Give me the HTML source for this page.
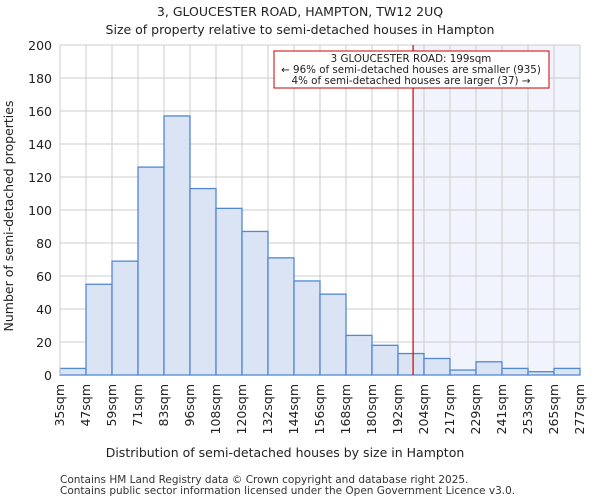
<!DOCTYPE html>
<html><head><meta charset="utf-8"><style>
body{margin:0;background:#fff;font-family:"DejaVu Sans","Liberation Sans",sans-serif;}
</style></head><body>
<svg id="chart" width="600" height="500" xmlns="http://www.w3.org/2000/svg" font-family="DejaVu Sans, Liberation Sans, sans-serif">
<text x="300" y="16" text-anchor="middle" font-size="12.5" fill="#222">3, GLOUCESTER ROAD, HAMPTON, TW12 2UQ</text>
<text x="300" y="34" text-anchor="middle" font-size="12.5" fill="#222">Size of property relative to semi-detached houses in Hampton</text>
<g id="plot"></g>
<text x="285" y="457" text-anchor="middle" font-size="12.5" fill="#222">Distribution of semi-detached houses by size in Hampton</text>
<text transform="translate(13,216) rotate(-90)" text-anchor="middle" font-size="12.5" fill="#222">Number of semi-detached properties</text>
<text x="60" y="483" font-size="10.5" fill="#333">Contains HM Land Registry data © Crown copyright and database right 2025.</text>
<text x="60" y="494" font-size="10.5" fill="#333">Contains public sector information licensed under the Open Government Licence v3.0.</text>
</svg>
<script>
const categories=["35sqm","47sqm","59sqm","71sqm","83sqm","96sqm","108sqm","120sqm","132sqm","144sqm","156sqm","168sqm","180sqm","192sqm","204sqm","217sqm","229sqm","241sqm","253sqm","265sqm","277sqm"];
const counts=[4,55,69,126,157,113,101,87,71,57,49,24,18,13,10,3,8,4,2,4];
const yTicks=[0,20,40,60,80,100,120,140,160,180,200];
const markerBin=13.58;
const NS="http://www.w3.org/2000/svg";
const g=document.getElementById('plot');
const L=60,R=580,T=45,B=375,yMax=200;
const n=counts.length, bw=(R-L)/n;
const xs=i=>L+i*bw, ys=v=>B-(v/yMax)*(B-T);
function mk(t,a){const e=document.createElementNS(NS,t);for(const k in a)e.setAttribute(k,a[k]);g.appendChild(e);return e;}
const mx=xs(markerBin);
let e=mk('rect',{x:mx,y:T,width:R-mx,height:B-T,fill:'#f1f4fd'});


yTicks.forEach(v=>{
 let l=mk('line',{x1:L,x2:R,y1:ys(v),y2:ys(v),stroke:'#ccc','stroke-width':1});
 
 
 let t=mk('text',{x:L-8,y:ys(v)+5,'text-anchor':'end','font-size':12.5,fill:'#222'});
 t.textContent=v;
 
 
});
for(let i=0;i<=n;i++){
 let l=mk('line',{x1:xs(i),x2:xs(i),y1:T,y2:B,stroke:'#ccc','stroke-width':1});
 
 
}
counts.forEach((c,i)=>{
 let r=mk('rect',{x:xs(i),y:ys(c),width:bw,height:B-ys(c),fill:'#dae4f4',stroke:'#5088d4','stroke-width':1.3});
 
 
});
categories.forEach((c,i)=>{
 let t=mk('text',{transform:`translate(${xs(i)+4},384) rotate(-90)`,'text-anchor':'end','font-size':12.5,fill:'#222'});
 t.textContent=c;
 
 
});
e=mk('line',{x1:mx,x2:mx,y1:T,y2:B,stroke:'#cc0000','stroke-width':1.2});


e=mk('rect',{x:274,y:51,width:275,height:37,fill:'#fff',stroke:'#cc0000','stroke-width':1});


["3 GLOUCESTER ROAD: 199sqm","← 96% of semi-detached houses are smaller (935)","4% of semi-detached houses are larger (37) →"].forEach((s,i)=>{
 let t=mk('text',{x:411,y:62+i*11,'text-anchor':'middle','font-size':10.3,fill:'#222'});
 t.textContent=s;
 
 
});
e=mk('line',{x1:L,x2:L,y1:T,y2:B,stroke:'#ccc'});


</script>
</body></html>
